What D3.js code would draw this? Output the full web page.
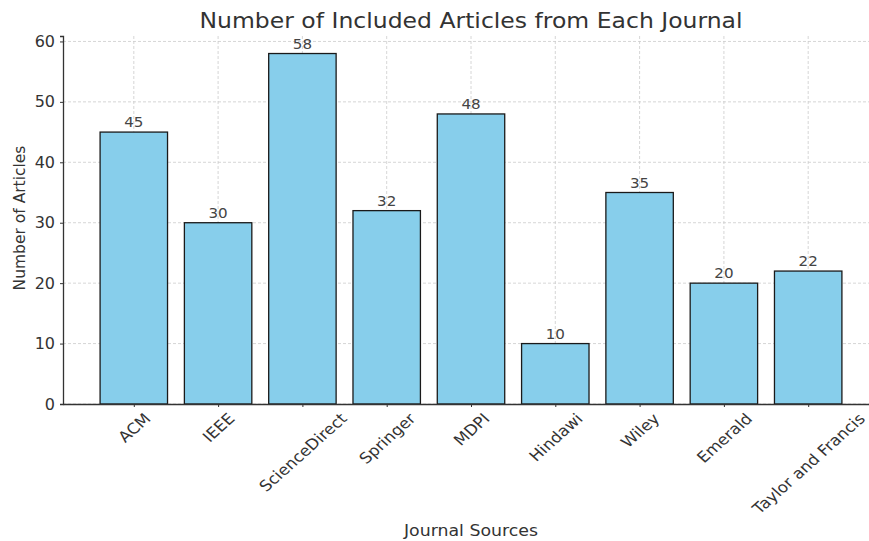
<!DOCTYPE html>
<html>
<head>
<meta charset="utf-8">
<script src="https://cdn.jsdelivr.net/npm/d3@7"></script>
<style>
  body { margin: 0; background: #fff; overflow: hidden; }
  text { font-family: "DejaVu Sans", sans-serif; fill: #333; }
</style>
</head>
<body>
<div class="chart"></div>
<script>
// data
const journals = ['ACM', 'IEEE', 'ScienceDirect', 'Springer', 'MDPI', 'Hindawi', 'Wiley', 'Emerald', 'Taylor and Francis']
const articles = [45, 30, 58, 32, 48, 10, 35, 20, 22]
const yTicks = [0, 10, 20, 30, 40, 50, 60]

const W = 869, H = 541
const margin = { top: 36, right: -10, bottom: 137, left: 63 }
const width = W - margin.left - margin.right
const height = H - margin.top - margin.bottom
const stretch = 1.12 // text in the picture is a bit wider than tall

let svg = d3.select('.chart')
  .append('svg')
  .attr('width', W)
  .attr('height', H)

let g = svg.append('g')
  .attr('transform', `translate(${margin.left},${margin.top})`)

// matplotlib-like linear x: bars at 0..n-1 with 0.8 width
const n = journals.length
const xLin = d3.scaleLinear().domain([-0.84, n - 1 + 0.84]).range([0, width])
const xScale = d => xLin(journals.indexOf(d))
const barW = xLin(0.8) - xLin(0)

const yScale = d3.scaleLinear()
  .domain([0, 58 * 1.05])
  .range([height, 0])

// grid
g.append('g')
  .selectAll('line')
  .data(yTicks)
  .enter()
  .append('line')
  .attr('x1', 0).attr('x2', width)
  .attr('y1', d => yScale(d)).attr('y2', d => yScale(d))
  .attr('stroke', '#ccc').attr('stroke-width', 0.8).attr('stroke-dasharray', '3,2')

g.append('g')
  .selectAll('line')
  .data(journals)
  .enter()
  .append('line')
  .attr('x1', d => xScale(d)).attr('x2', d => xScale(d))
  .attr('y1', 0).attr('y2', height)
  .attr('stroke', '#ccc').attr('stroke-width', 0.8).attr('stroke-dasharray', '3,2')

// bars
g.selectAll('rect')
  .data(journals)
  .enter()
  .append('rect')
  .attr('x', d => xScale(d) - barW / 2)
  .attr('y', (d, i) => yScale(articles[i]))
  .attr('width', barW)
  .attr('height', (d, i) => height - yScale(articles[i]))
  .attr('fill', '#87ceeb')
  .attr('stroke', '#1a1a1a')
  .attr('stroke-width', 1.3)

// value labels
g.selectAll('text.val')
  .data(journals)
  .enter()
  .append('text')
  .attr('class', 'val')
  .attr('transform', (d, i) => `translate(${xScale(d)},${yScale(articles[i]) - 5}) scale(${stretch},1)`)
  .attr('text-anchor', 'middle')
  .style('font-size', '13.5px')
  .style('fill', '#444')
  .text((d, i) => articles[i])

// y axis
let yAxis = d3.axisLeft(yScale).tickValues(yTicks).tickSize(3).tickPadding(5)
let yg = g.append('g').call(yAxis)
yg.select('.domain').attr('stroke', '#333').attr('stroke-width', 1.3)
yg.selectAll('.tick line').attr('stroke', '#333')
yg.selectAll('text').style('font-size', '16px').style('fill', '#333')

// x axis
let xAxis = d3.axisBottom(xLin).tickValues(d3.range(n)).tickFormat(i => journals[i]).tickSize(3).tickSizeOuter(0)
let xg = g.append('g').attr('transform', `translate(0, ${height})`).call(xAxis)
xg.select('.domain').attr('stroke', '#333').attr('stroke-width', 1.3)
xg.selectAll('.tick line').attr('stroke', '#333')
// rotated labels centred under the tick, like matplotlib rotation=45
xg.selectAll('text')
  .style('font-size', '15px')
  .style('fill', '#333')
  .style('text-anchor', 'middle')
  .attr('dy', '0.35em')
  .attr('y', 0)
  .attr('transform', function () {
    const L = this.getComputedTextLength()
    const half = (L + 14) * Math.SQRT1_2 / 2
    return `translate(0, ${7 + half}) scale(${stretch},1) rotate(-45)`
  })

// titles
svg.append('text')
  .attr('transform', `translate(${margin.left + width / 2}, 28) scale(${stretch},1)`)
  .attr('text-anchor', 'middle')
  .style('font-size', '21px')
  .text('Number of Included Articles from Each Journal')

svg.append('text')
  .attr('transform', `translate(25, ${margin.top + height / 2 - 2}) rotate(-90)`)
  .attr('text-anchor', 'middle')
  .style('font-size', '15.5px')
  .text('Number of Articles')

svg.append('text')
  .attr('transform', `translate(${margin.left + width / 2}, 536) scale(${stretch},1)`)
  .attr('text-anchor', 'middle')
  .style('font-size', '15.5px')
  .text('Journal Sources')
</script>
</body>
</html>
